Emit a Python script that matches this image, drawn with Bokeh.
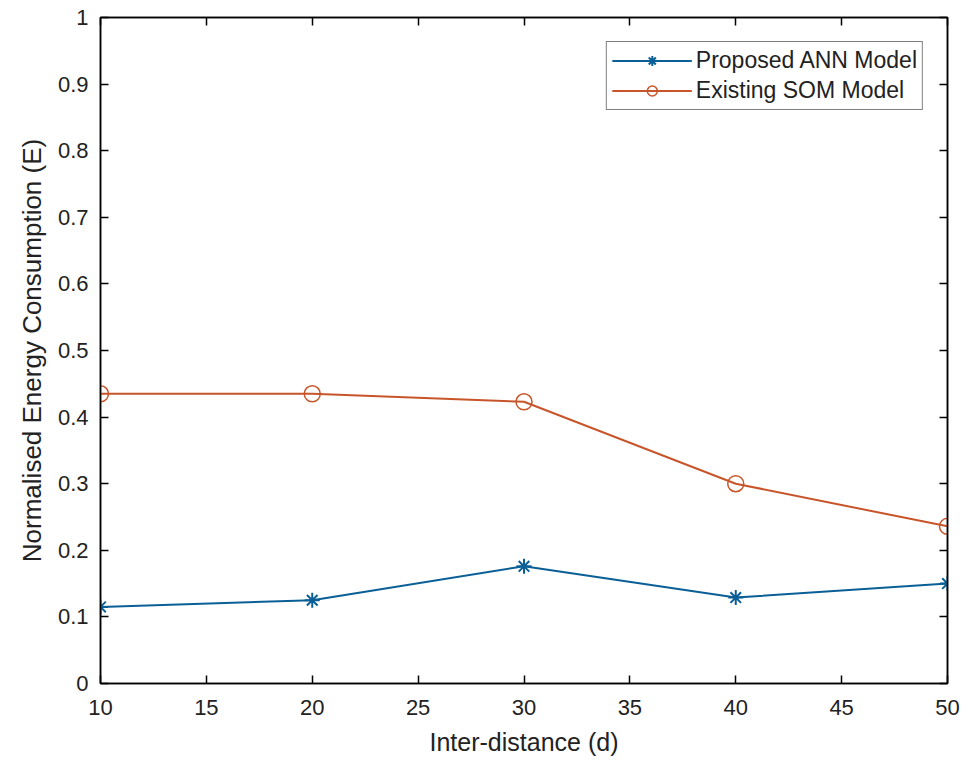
from bokeh.plotting import figure
from bokeh.models import Range1d, LinearAxis, FixedTicker, Legend, LegendItem
from bokeh.embed import file_html
from bokeh.resources import INLINE

distance = [10, 20, 30, 40, 50]
ann_energy = [0.115, 0.125, 0.176, 0.129, 0.150]
som_energy = [0.435, 0.435, 0.423, 0.300, 0.236]
x_ticks = [10, 15, 20, 25, 30, 35, 40, 45, 50]
y_ticks = [0, 0.1, 0.2, 0.3, 0.4, 0.5, 0.6, 0.7, 0.8, 0.9, 1.0]
y_tick_labels = ["0", "0.1", "0.2", "0.3", "0.4", "0.5", "0.6", "0.7", "0.8", "0.9", "1"]

BLUE = "#0a5f96"
ORANGE = "#c8552a"
FONT = "Liberation Sans"

p = figure(width=968, height=762, output_backend="svg", toolbar_location=None,
           x_range=Range1d(10, 50), y_range=Range1d(0, 1),
           min_border_left=100, min_border_right=21, min_border_top=17, min_border_bottom=79)
p.xgrid.visible = False
p.ygrid.visible = False
p.outline_line_color = "black"
p.outline_line_width = 1.5
p.background_fill_color = "white"
p.border_fill_color = "white"

for ax in (p.xaxis[0], p.yaxis[0]):
    ax.major_tick_in = 8
    ax.major_tick_out = 0
    ax.minor_tick_in = 0
    ax.minor_tick_out = 0
    ax.axis_line_color = "black"
    ax.axis_line_width = 1.5
    ax.major_tick_line_color = "black"
    ax.major_tick_line_width = 1.5
    ax.major_label_text_font = FONT
    ax.major_label_text_font_size = "22px"
    ax.major_label_text_color = "#222222"
    ax.axis_label_text_font = FONT
    ax.axis_label_text_font_style = "normal"
    ax.axis_label_text_color = "#222222"

p.xaxis.axis_label_text_font_size = "25px"
p.yaxis.axis_label_text_font_size = "26px"
p.xaxis.ticker = FixedTicker(ticks=x_ticks)
p.yaxis.ticker = FixedTicker(ticks=y_ticks)
p.yaxis.major_label_overrides = {t: l for t, l in zip(y_ticks, y_tick_labels)}
p.xaxis.axis_label = "Inter-distance (d)"
p.yaxis.axis_label = "Normalised Energy Consumption (E)"
p.xaxis.major_label_standoff = 16
p.yaxis.major_label_standoff = 12
p.xaxis.axis_label_standoff = 10
p.yaxis.axis_label_standoff = 8

# mirror tick marks (box), without labels
right = LinearAxis(ticker=FixedTicker(ticks=y_ticks),
                   major_label_overrides={t: "" for t in y_ticks},
                   major_tick_in=8, major_tick_out=0, minor_tick_in=0, minor_tick_out=0,
                   axis_line_width=1.5, major_tick_line_width=1.5)
top = LinearAxis(ticker=FixedTicker(ticks=x_ticks),
                 major_label_overrides={t: "" for t in x_ticks},
                 major_tick_in=8, major_tick_out=0, minor_tick_in=0, minor_tick_out=0,
                 axis_line_width=1.5, major_tick_line_width=1.5)
p.add_layout(right, "right")
p.add_layout(top, "above")

l1 = p.line(distance, ann_energy, line_color=BLUE, line_width=2)
m1 = p.scatter(distance, ann_energy, marker="asterisk", size=15, line_color=BLUE, line_width=2)
l2 = p.line(distance, som_energy, line_color=ORANGE, line_width=2)
m2 = p.scatter(distance, som_energy, marker="circle", size=16, line_color=ORANGE,
               fill_color=None, line_width=1.5)

legend = Legend(items=[LegendItem(label="Proposed ANN Model", renderers=[l1, m1]),
                       LegendItem(label="Existing SOM Model", renderers=[l2, m2])],
                location="top_right")
legend.label_text_font = FONT
legend.label_text_font_size = "23px"
legend.label_text_color = "#222222"
legend.glyph_width = 80
legend.glyph_height = 25
legend.spacing = 3
legend.padding = 5
legend.margin = 24
legend.border_line_color = "black"
legend.border_line_width = 1.5
legend.label_standoff = 4
p.add_layout(legend)

open("out.html", "w").write(file_html(p, INLINE))
